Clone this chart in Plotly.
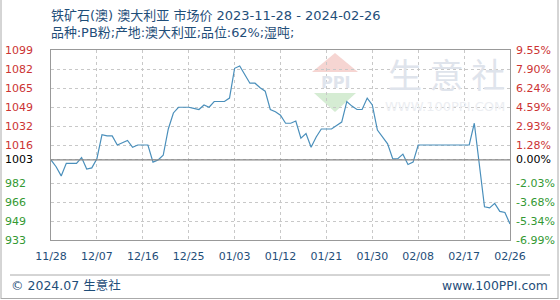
import plotly.graph_objects as go
import pandas as pd

start_date = "2023-11-28"
prices = [1003, 997, 989, 1000, 1000, 1000, 1005, 995, 996, 1004,
          1025, 1024, 1024, 1016, 1018, 1020, 1014, 1016, 1016, 1016,
          1001, 1003, 1007, 1030, 1044, 1049, 1049, 1049, 1048, 1047,
          1051, 1049, 1054, 1054, 1054, 1057, 1083, 1085, 1078, 1070,
          1070, 1066, 1063, 1047, 1045, 1042, 1035, 1035, 1037, 1022,
          1026, 1014, 1023, 1030, 1030, 1030, 1033, 1036, 1054, 1050,
          1047, 1047, 1057, 1051, 1029, 1023, 1017, 1004, 1004, 1008,
          999, 1001, 1016, 1016, 1016, 1016, 1016, 1016, 1016, 1016,
          1016, 1016, 1016, 1035, 998, 962, 961, 965, 958, 957, 947]
dates = pd.date_range(start_date, periods=len(prices), freq="D")

y_ticks = [1099, 1082, 1065, 1049, 1032, 1016, 1003, 982, 966, 949, 933]
y_pct_labels = ["9.55%", "7.90%", "6.24%", "4.59%", "2.93%", "1.28%", "0.00%",
                "-2.03%", "-3.68%", "-5.34%", "-6.99%"]
base_value = 1003
x_tick_labels = ["11/28", "12/07", "12/16", "12/25", "01/03", "01/12",
                 "01/21", "01/30", "02/08", "02/17", "02/26"]

title1 = "铁矿石(澳) 澳大利亚 市场价 2023-11-28 - 2024-02-26"
title2 = "品种:PB粉;产地:澳大利亚;品位:62%;湿吨;"
footer_left = "© 2024.07 生意社"
footer_right = "www.100PPI.com"

W, H = 560, 300
L, R, T, B = 51, 50, 50, 60
PW, PH = W - L - R, H - T - B

def px(x):
    return (x - L) / PW

def py(y):
    return (H - B - y) / PH

RED = "#cc3333"
GREEN = "#339933"
BLUE_TXT = "#1f4e79"
NUM_FONT = "DejaVu Sans"
MIX_FONT = "DejaVu Sans, Noto Sans CJK SC"
CJK_FONT = "Noto Sans CJK SC"

fig = go.Figure()
fig.add_trace(go.Scatter(x=dates, y=prices, mode="lines",
                         line=dict(color="#4a8fbb", width=1.2),
                         hoverinfo="skip", showlegend=False))

tickdates = pd.date_range(start_date, periods=len(x_tick_labels), freq="9D")

fig.update_layout(
    width=W, height=H, margin=dict(l=L, r=R, t=T, b=B),
    paper_bgcolor="white", plot_bgcolor="white",
    xaxis=dict(range=[dates[0], dates[-1]], tickvals=tickdates, ticktext=x_tick_labels,
               showgrid=True, gridcolor="#c8c8c8", griddash="dot", gridwidth=1,
               showline=True, linecolor="#999999", mirror=True, zeroline=False,
               ticklabelstandoff=6,
               tickfont=dict(family=NUM_FONT, size=11, color=BLUE_TXT), ticks=""),
    yaxis=dict(range=[y_ticks[-1], y_ticks[0]], tickvals=y_ticks, showticklabels=False,
               showgrid=True, gridcolor="#c8c8c8", griddash="dot", gridwidth=1,
               showline=True, linecolor="#999999", mirror=True, zeroline=False, ticks=""),
)

fig.add_hline(y=base_value, line=dict(color="#888888", width=1.2))

ann = []
for v, p in zip(y_ticks, y_pct_labels):
    c = RED if v > base_value else (GREEN if v < base_value else "black")
    ann.append(dict(x=px(3), y=v, xref="paper", yref="y", text=str(v), showarrow=False,
                    xanchor="left", yanchor="middle",
                    font=dict(family=NUM_FONT, size=11, color=c)))
    ann.append(dict(x=px(514), y=v, xref="paper", yref="y", text=p, showarrow=False,
                    xanchor="left", yanchor="middle",
                    font=dict(family=NUM_FONT, size=11, color=c)))

ann.append(dict(x=px(49), y=py(15), xref="paper", yref="paper", text=title1, showarrow=False,
                xanchor="left", yanchor="middle", font=dict(family=MIX_FONT, size=13, color=BLUE_TXT)))
ann.append(dict(x=px(49), y=py(33), xref="paper", yref="paper", text=title2, showarrow=False,
                xanchor="left", yanchor="middle", font=dict(family=MIX_FONT, size=12.9, color=BLUE_TXT)))
ann.append(dict(x=px(9), y=py(285), xref="paper", yref="paper", text=footer_left, showarrow=False,
                xanchor="left", yanchor="middle", font=dict(family=MIX_FONT, size=12.5, color=BLUE_TXT)))
ann.append(dict(x=px(550), y=py(285), xref="paper", yref="paper", text=footer_right, showarrow=False,
                xanchor="right", yanchor="middle", font=dict(family=NUM_FONT, size=12.4, color=BLUE_TXT)))
# watermark
ann.append(dict(x=px(446), y=py(73), xref="paper", yref="paper", text="生 意 社", showarrow=False,
                xanchor="center", yanchor="middle", font=dict(family=CJK_FONT, size=34, color="#dfe4ec")))
ann.append(dict(x=px(445), y=py(106), xref="paper", yref="paper", text="WWW.100PPI.COM", showarrow=False,
                xanchor="center", yanchor="middle", font=dict(family=NUM_FONT, size=13, color="#eceef2")))
ann.append(dict(x=px(335), y=py(82), xref="paper", yref="paper", text="<b>PPI</b>", showarrow=False,
                xanchor="center", yanchor="middle", font=dict(family=NUM_FONT, size=16, color="#dfe4ec")))
fig.update_layout(annotations=ann)

def path(pts):
    s = "M " + " L ".join(f"{px(a)},{py(b)}" for a, b in pts) + " Z"
    return s

shapes = [
    dict(type="path", xref="paper", yref="paper", path=path([(312, 72), (335, 53), (358, 72)]),
         fillcolor="#f6d5d2", line=dict(width=0), layer="below"),
    dict(type="path", xref="paper", yref="paper", path=path([(314, 93), (356, 93), (335, 112)]),
         fillcolor="#d5ecd3", line=dict(width=0), layer="below"),
    # footer separator
    dict(type="line", xref="paper", yref="paper", x0=px(10), x1=px(550), y0=py(275), y1=py(275),
         line=dict(color="#aaaaaa", width=1)),
    # outer frame
    dict(type="line", xref="paper", yref="paper", x0=px(1), x1=px(1), y0=py(0), y1=py(299),
         line=dict(color="#aaaaaa", width=1)),
    dict(type="line", xref="paper", yref="paper", x0=px(558), x1=px(558), y0=py(0), y1=py(299),
         line=dict(color="#aaaaaa", width=1)),
    dict(type="line", xref="paper", yref="paper", x0=px(1), x1=px(558), y0=py(298.5), y1=py(298.5),
         line=dict(color="#aaaaaa", width=1)),
]
for s in shapes:
    fig.add_shape(**s)

fig.write_html("out.html")
